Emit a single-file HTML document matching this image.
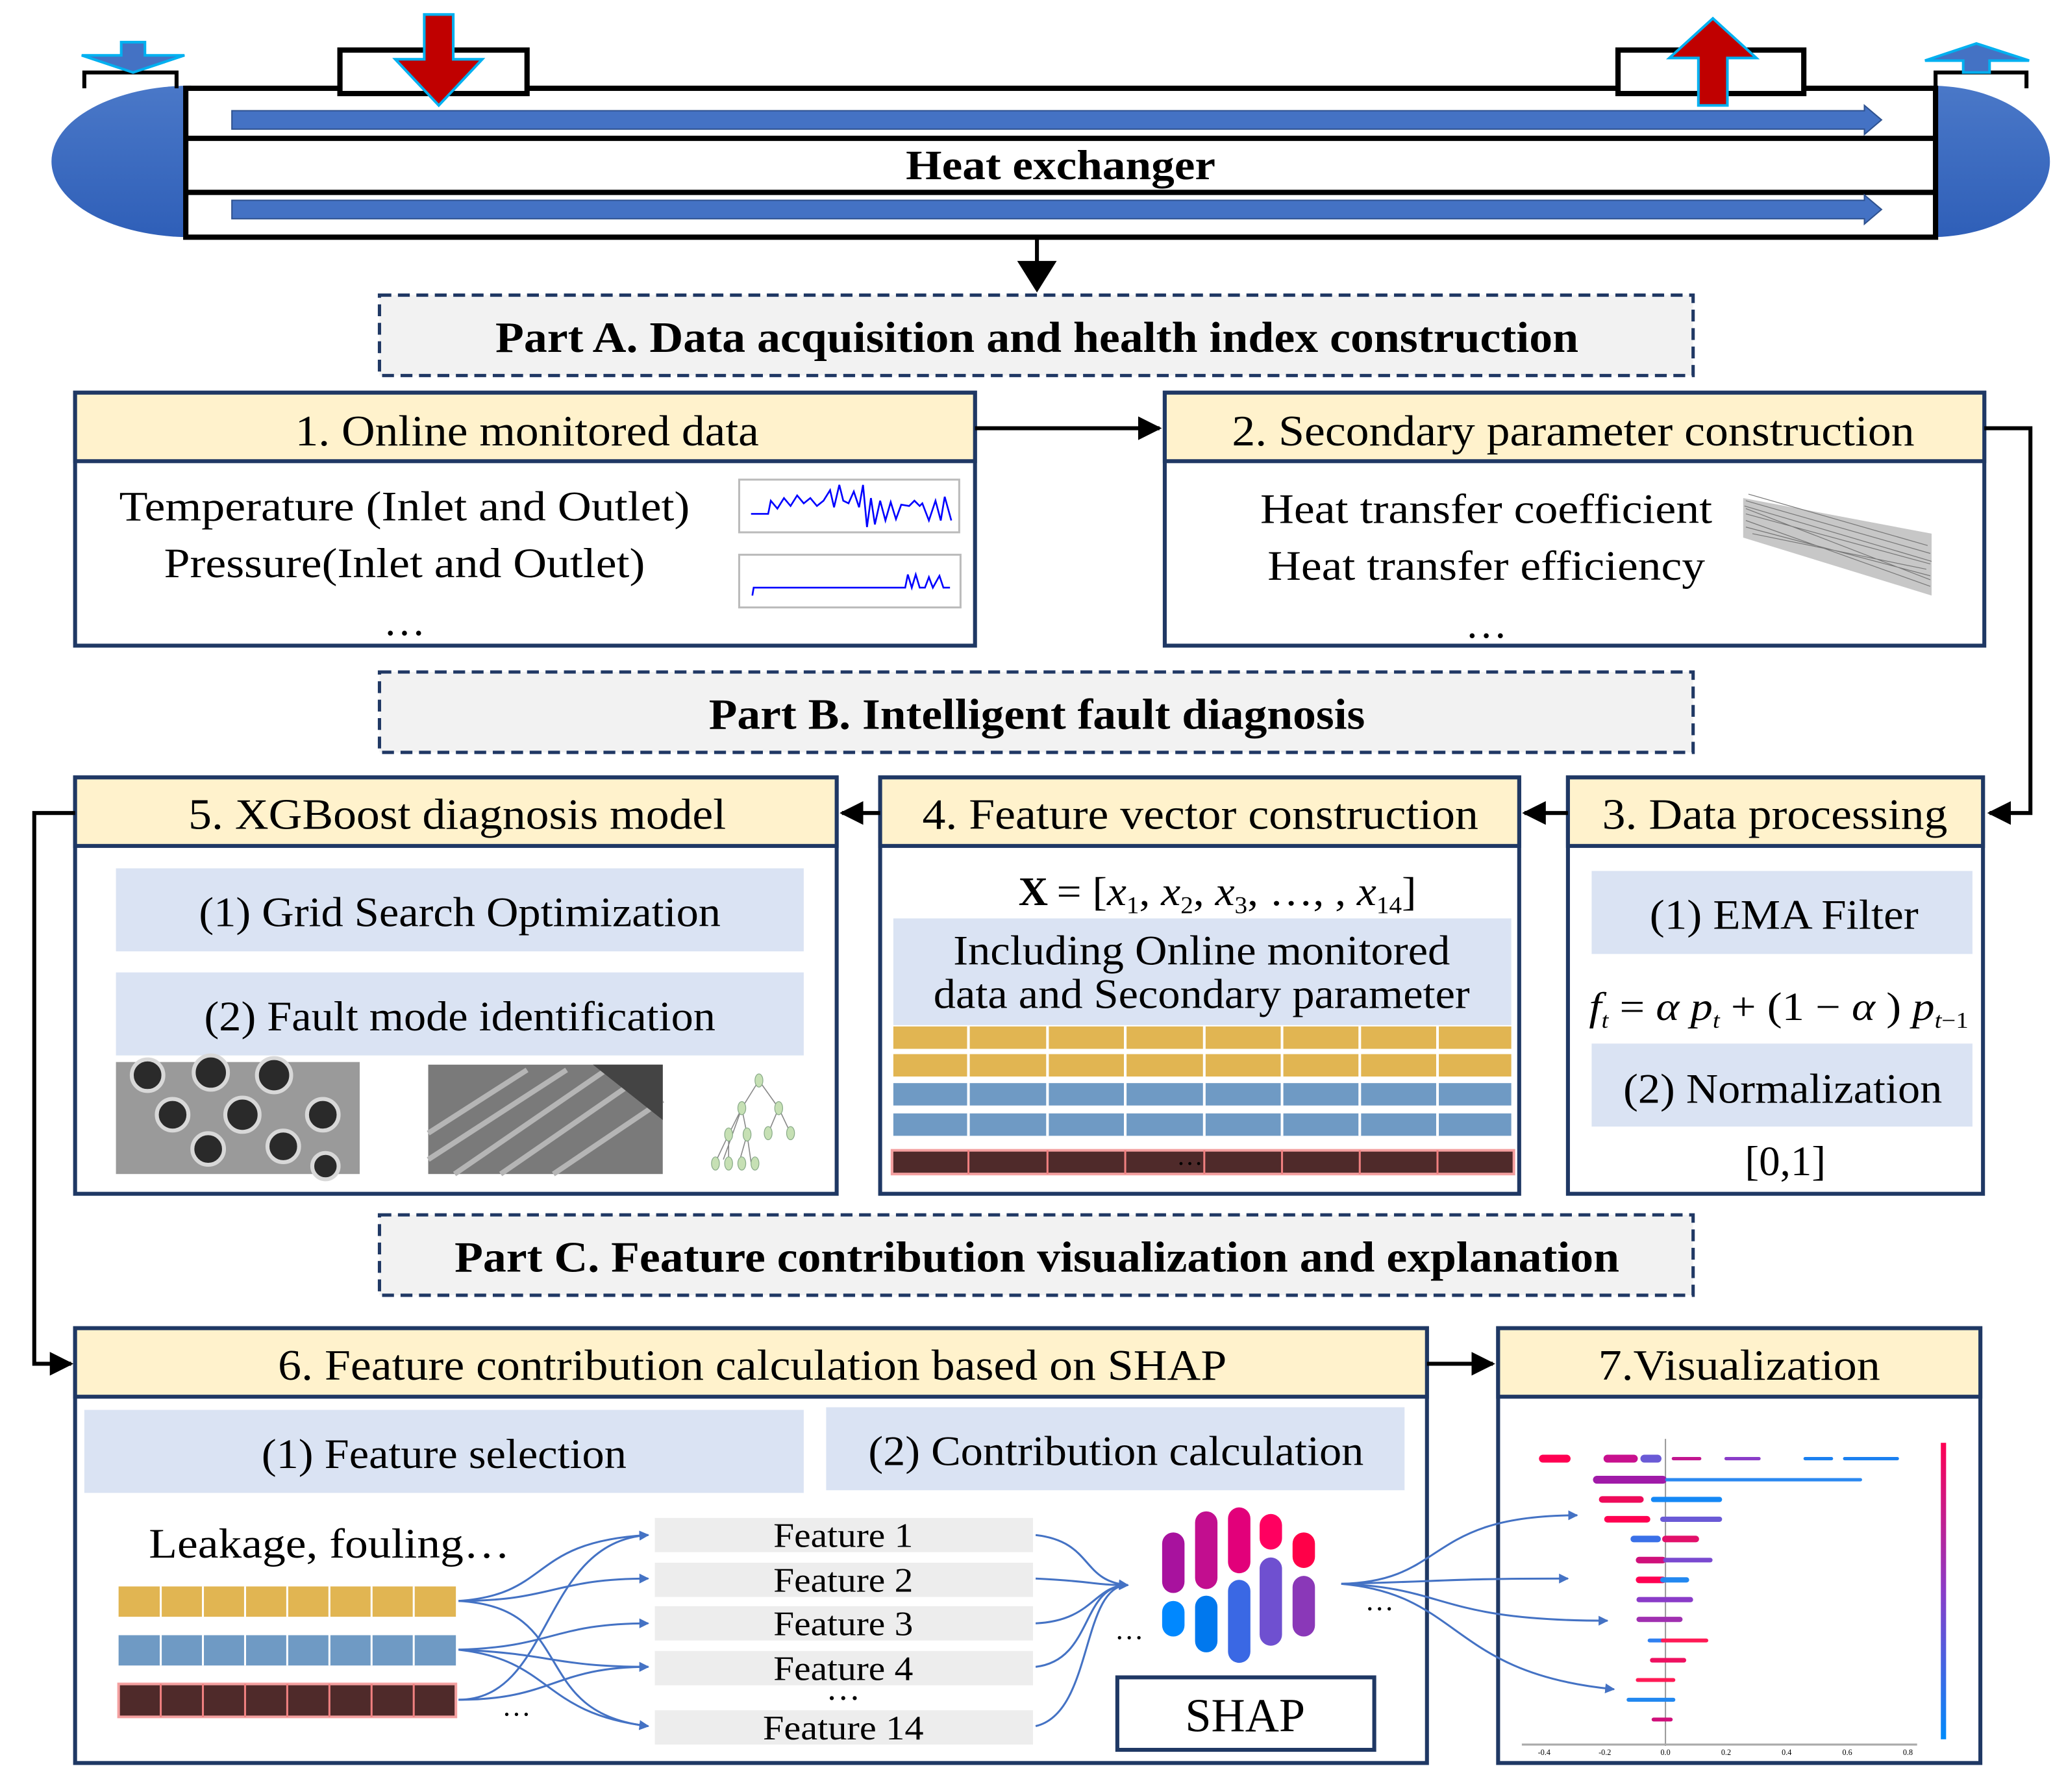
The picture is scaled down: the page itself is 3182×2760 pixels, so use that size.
<!DOCTYPE html>
<html><head><meta charset="utf-8"><style>
html,body{margin:0;padding:0;background:#fff;}
svg{display:block;}
text{font-family:"Liberation Serif",serif;fill:#000;}
</style></head><body>
<svg width="3182" height="2760" viewBox="0 0 1568 1360" preserveAspectRatio="none" xmlns="http://www.w3.org/2000/svg">
<defs>
<linearGradient id="head" x1="0" y1="0" x2="0" y2="1"><stop offset="0" stop-color="#4a78c8"/><stop offset="1" stop-color="#2f5fb8"/></linearGradient>
<linearGradient id="cbar" x1="0" y1="0" x2="0" y2="1"><stop offset="0" stop-color="#ff0052"/><stop offset="0.5" stop-color="#8a3cc8"/><stop offset="1" stop-color="#008bfb"/></linearGradient>
<marker id="ah" viewBox="0 0 10 10" refX="9" refY="5" markerWidth="6" markerHeight="6" orient="auto"><path d="M0,0 L10,5 L0,10 z" fill="#000"/></marker>
<marker id="bh" viewBox="0 0 10 10" refX="9" refY="5" markerWidth="5" markerHeight="5" orient="auto"><path d="M0,0 L10,5 L0,10 z" fill="#4472c4"/></marker>
</defs>

<!-- Heat exchanger -->
<path d="M145,65 A105,57 0 0 0 145,180 Z" fill="url(#head)"/>
<path d="M1465,65 A90,57 0 0 1 1465,180 Z" fill="url(#head)"/>
<rect x="141" y="67" width="1328" height="113" fill="#fff" stroke="#000" stroke-width="4"/>
<line x1="141" y1="105" x2="1469" y2="105" stroke="#000" stroke-width="4"/>
<line x1="141" y1="146" x2="1469" y2="146" stroke="#000" stroke-width="4"/>
<polyline points="64,67 64,55 134,55 134,67" fill="none" stroke="#000" stroke-width="3"/>
<polyline points="1469,67 1469,55 1538,55 1538,67" fill="none" stroke="#000" stroke-width="3"/>
<rect x="258" y="38" width="142" height="33" fill="#fff" stroke="#000" stroke-width="4"/>
<rect x="1228" y="38" width="141" height="33" fill="#fff" stroke="#000" stroke-width="4"/>
<path d="M176,84 H1415 V80 L1428,91 L1415,102 V98 H176 Z" fill="#4472c4" stroke="#2f528f" stroke-width="1"/>
<path d="M176,152 H1415 V148 L1428,159 L1415,170 V166 H176 Z" fill="#4472c4" stroke="#2f528f" stroke-width="1"/>
<path d="M322,11 H344 V45 H366 L333,80 L300,45 H322 Z" fill="#c00000" stroke="#00b0f0" stroke-width="2"/>
<path d="M1289,80 H1311 V44 H1333 L1300,14 L1267,44 H1289 Z" fill="#c00000" stroke="#00b0f0" stroke-width="2"/>
<path d="M92,32 H110 V42 H140 L101,55 L62,42 H92 Z" fill="#4472c4" stroke="#00b0f0" stroke-width="2"/>
<path d="M1490,55 H1510 V46 H1540 L1500,33 L1461,46 H1490 Z" fill="#4472c4" stroke="#00b0f0" stroke-width="2"/>
<text x="805" y="136" font-size="32" font-weight="bold" text-anchor="middle" textLength="235" lengthAdjust="spacingAndGlyphs">Heat exchanger</text>
<line x1="787" y1="180" x2="787" y2="202" stroke="#000" stroke-width="3"/>
<path d="M772,198 L802,198 L787,222 Z" fill="#000"/>

<!-- Part boxes -->
<g fill="#f2f2f2" stroke="#203864" stroke-width="2.5" stroke-dasharray="9,5">
<rect x="288" y="224" width="997" height="61"/>
<rect x="288" y="510" width="997" height="61"/>
<rect x="288" y="922" width="997" height="61"/>
</g>
<g font-size="33" font-weight="bold" text-anchor="middle">
<text x="787" y="267" textLength="822" lengthAdjust="spacingAndGlyphs">Part A. Data acquisition and health index construction</text>
<text x="787" y="553" textLength="498" lengthAdjust="spacingAndGlyphs">Part B. Intelligent fault diagnosis</text>
<text x="787" y="965" textLength="884" lengthAdjust="spacingAndGlyphs">Part C. Feature contribution visualization and explanation</text>
</g>

<!-- Main boxes -->
<g stroke="#1f3864" stroke-width="3">
<rect x="57" y="298" width="683" height="192" fill="#fff"/>
<rect x="57" y="298" width="683" height="52" fill="#fff2cc"/>
<rect x="884" y="298" width="622" height="192" fill="#fff"/>
<rect x="884" y="298" width="622" height="52" fill="#fff2cc"/>
<rect x="57" y="590" width="578" height="316" fill="#fff"/>
<rect x="57" y="590" width="578" height="52" fill="#fff2cc"/>
<rect x="668" y="590" width="485" height="316" fill="#fff"/>
<rect x="668" y="590" width="485" height="52" fill="#fff2cc"/>
<rect x="1190" y="590" width="315" height="316" fill="#fff"/>
<rect x="1190" y="590" width="315" height="52" fill="#fff2cc"/>
<rect x="57" y="1008" width="1026" height="330" fill="#fff"/>
<rect x="57" y="1008" width="1026" height="52" fill="#fff2cc"/>
<rect x="1137" y="1008" width="366" height="330" fill="#fff"/>
<rect x="1137" y="1008" width="366" height="52" fill="#fff2cc"/>
</g>
<g font-size="33" text-anchor="middle">
<text x="400" y="338" textLength="352" lengthAdjust="spacingAndGlyphs">1. Online monitored data</text>
<text x="1194" y="338" textLength="518" lengthAdjust="spacingAndGlyphs">2. Secondary parameter construction</text>
<text x="347" y="629" textLength="408" lengthAdjust="spacingAndGlyphs">5. XGBoost diagnosis model</text>
<text x="911" y="629" textLength="422" lengthAdjust="spacingAndGlyphs">4. Feature vector construction</text>
<text x="1347" y="629" textLength="262" lengthAdjust="spacingAndGlyphs">3. Data processing</text>
<text x="571" y="1047" textLength="720" lengthAdjust="spacingAndGlyphs">6. Feature contribution calculation based on SHAP</text>
<text x="1320" y="1047" textLength="214" lengthAdjust="spacingAndGlyphs">7.Visualization</text>
</g>

<!-- Connectors -->
<g stroke="#000" stroke-width="3" fill="none">
<line x1="740" y1="325" x2="880" y2="325" marker-end="url(#ah)"/>
<polyline points="1506,325 1541,325 1541,617 1510,617" marker-end="url(#ah)"/>
<line x1="1190" y1="617" x2="1157" y2="617" marker-end="url(#ah)"/>
<line x1="668" y1="617" x2="639" y2="617" marker-end="url(#ah)"/>
<polyline points="57,617 26,617 26,1035 54,1035" marker-end="url(#ah)"/>
<line x1="1083" y1="1035" x2="1133" y2="1035" marker-end="url(#ah)"/>
</g>

<!-- Box1/2 content -->
<g font-size="32" text-anchor="middle">
<text x="307" y="395" textLength="433" lengthAdjust="spacingAndGlyphs">Temperature (Inlet and Outlet)</text>
<text x="307" y="438" textLength="365" lengthAdjust="spacingAndGlyphs">Pressure(Inlet and Outlet)</text>
<text x="307" y="482">…</text>
<text x="1128" y="397" textLength="343" lengthAdjust="spacingAndGlyphs">Heat transfer coefficient</text>
<text x="1128" y="440" textLength="332" lengthAdjust="spacingAndGlyphs">Heat transfer efficiency</text>
<text x="1128" y="484">…</text>
</g>
<rect x="561" y="364" width="167" height="40" fill="#fff" stroke="#bbb" stroke-width="1.5"/>
<rect x="561" y="421" width="168" height="40" fill="#fff" stroke="#bbb" stroke-width="1.5"/>
<polyline fill="none" stroke="#0000ff" stroke-width="1.3" points="570,390 583,390 585,380 590,386 595,378 600,384 605,376 610,382 615,378 620,384 625,380 630,372 633,385 637,368 640,380 644,382 648,373 652,385 655,368 658,400 661,378 664,398 668,380 672,395 676,381 680,394 684,383 690,384 694,380 698,384 700,382 705,395 710,380 714,395 717,377 722,395"/>
<polyline fill="none" stroke="#0000ff" stroke-width="1.3" points="571,452 572,446 687,446 689,436 692,446 695,436 698,446 702,446 705,438 708,446 713,437 716,446 721,446"/>
<path d="M1323,378 L1466,405 L1466,452 L1323,408 Z" fill="#999" opacity="0.55"/>
<g stroke="#777" stroke-width="0.6">
<path d="M1325,380 L1465,420 M1325,390 L1465,428 M1325,400 L1465,437 M1325,386 L1465,440 M1325,395 L1465,445 M1327,375 L1463,414 M1330,405 L1462,432 M1324,384 L1466,426"/>
</g>

<!-- Box5 content -->
<rect x="88" y="659" width="522" height="63" fill="#dae3f3"/>
<rect x="88" y="738" width="522" height="63" fill="#dae3f3"/>
<g font-size="32" text-anchor="middle">
<text x="349" y="703" textLength="396" lengthAdjust="spacingAndGlyphs">(1) Grid Search Optimization</text>
<text x="349" y="782" textLength="388" lengthAdjust="spacingAndGlyphs">(2) Fault mode identification</text>
</g>
<rect x="88" y="806" width="185" height="85" fill="#9a9a9a"/>
<g fill="#2a2a2a" stroke="#d8d8d8" stroke-width="3">
<circle cx="112" cy="816" r="12"/><circle cx="160" cy="814" r="13"/><circle cx="208" cy="816" r="13"/>
<circle cx="131" cy="846" r="12"/><circle cx="184" cy="846" r="13"/><circle cx="245" cy="846" r="12"/>
<circle cx="158" cy="872" r="12"/><circle cx="215" cy="870" r="12"/><circle cx="247" cy="885" r="10"/>
</g>
<rect x="325" y="808" width="178" height="83" fill="#7a7a7a"/>
<g stroke="#b5b5b5" stroke-width="4">
<line x1="325" y1="860" x2="400" y2="812"/><line x1="325" y1="880" x2="430" y2="812"/><line x1="345" y1="891" x2="460" y2="812"/><line x1="380" y1="891" x2="490" y2="815"/><line x1="420" y1="891" x2="503" y2="835"/>
</g>
<path d="M450,808 L503,808 L503,850 Z" fill="#444"/>
<g stroke="#888" stroke-width="0.8" fill="none">
<path d="M576,820 L563,841 L549,880 M563,841 L553,861 L543,882 M563,841 L567,861 L561,882 M567,861 L570,882 M576,820 L591,841 L583,860 M591,841 L600,860 M553,861 L553,882"/>
</g>
<g fill="#c6e0b4" stroke="#8a8" stroke-width="0.6">
<ellipse cx="576" cy="820" rx="3" ry="5"/><ellipse cx="563" cy="841" rx="3" ry="5"/><ellipse cx="591" cy="841" rx="3" ry="5"/>
<ellipse cx="553" cy="861" rx="3" ry="5"/><ellipse cx="567" cy="861" rx="3" ry="5"/><ellipse cx="583" cy="860" rx="3" ry="5"/><ellipse cx="600" cy="860" rx="3" ry="5"/>
<ellipse cx="543" cy="883" rx="3" ry="5"/><ellipse cx="553" cy="883" rx="3" ry="5"/><ellipse cx="563" cy="883" rx="3" ry="5"/><ellipse cx="573" cy="883" rx="3" ry="5"/>
</g>

<!-- Box4 content -->
<text x="773" y="687" font-size="31" font-weight="bold">X</text>
<text x="802" y="687" font-size="31" textLength="273" lengthAdjust="spacingAndGlyphs">= [<tspan font-style="italic">x</tspan><tspan font-size="18" dy="6">1</tspan><tspan dy="-6">, </tspan><tspan font-style="italic">x</tspan><tspan font-size="18" dy="6">2</tspan><tspan dy="-6">, </tspan><tspan font-style="italic">x</tspan><tspan font-size="18" dy="6">3</tspan><tspan dy="-6">, …, , </tspan><tspan font-style="italic">x</tspan><tspan font-size="18" dy="6">14</tspan><tspan dy="-6">]</tspan></text>
<rect x="678" y="697" width="469" height="81" fill="#dae3f3"/>
<g font-size="32" text-anchor="middle">
<text x="912" y="732" textLength="377" lengthAdjust="spacingAndGlyphs">Including Online monitored</text>
<text x="912" y="765" textLength="407" lengthAdjust="spacingAndGlyphs">data and Secondary parameter</text>
</g>
<g fill="#e1b552"><rect x="678" y="779" width="469" height="17"/><rect x="678" y="800" width="469" height="17"/></g>
<g fill="#6f9ac4"><rect x="678" y="822" width="469" height="17"/><rect x="678" y="845" width="469" height="17"/></g>
<rect x="677" y="873" width="472" height="18" fill="#4f2a2a" stroke="#f4a0a0" stroke-width="2"/>
<g stroke="#fff" stroke-width="2">
<path d="M735,779 V862 M795,779 V862 M854,779 V862 M914,779 V862 M973,779 V862 M1032,779 V862 M1091,779 V862"/>
</g>
<g stroke="#f08080" stroke-width="1.5"><path d="M735,873 V891 M795,873 V891 M854,873 V891 M914,873 V891 M973,873 V891 M1032,873 V891 M1091,873 V891"/></g>
<text x="903" y="884" font-size="20" text-anchor="middle">…</text>

<!-- Box3 content -->
<rect x="1208" y="661" width="289" height="63" fill="#dae3f3"/>
<rect x="1208" y="792" width="289" height="63" fill="#dae3f3"/>
<g font-size="32" text-anchor="middle">
<text x="1354" y="705" textLength="204" lengthAdjust="spacingAndGlyphs">(1) EMA Filter</text>
<text x="1353" y="837" textLength="242" lengthAdjust="spacingAndGlyphs">(2) Normalization</text>
<text x="1355" y="892">[0,1]</text>
</g>
<text x="1350" y="774" font-size="30" text-anchor="middle" textLength="288" lengthAdjust="spacingAndGlyphs"><tspan font-style="italic">f</tspan><tspan font-size="17" dy="6" font-style="italic">t</tspan><tspan dy="-6"> = </tspan><tspan font-style="italic">α p</tspan><tspan font-size="17" dy="6" font-style="italic">t</tspan><tspan dy="-6"> + (1 − </tspan><tspan font-style="italic">α</tspan><tspan> ) </tspan><tspan font-style="italic">p</tspan><tspan font-size="17" dy="6" font-style="italic">t</tspan><tspan font-size="17">−1</tspan></text>

<!-- Box6 content -->
<rect x="64" y="1070" width="546" height="63" fill="#dae3f3"/>
<rect x="627" y="1068" width="439" height="63" fill="#dae3f3"/>
<g font-size="32" text-anchor="middle">
<text x="337" y="1114" textLength="277" lengthAdjust="spacingAndGlyphs">(1) Feature selection</text>
<text x="847" y="1112" textLength="376" lengthAdjust="spacingAndGlyphs">(2) Contribution calculation</text>
</g>
<text x="113" y="1182" font-size="32" textLength="274" lengthAdjust="spacingAndGlyphs">Leakage, fouling…</text>
<rect x="90" y="1204" width="256" height="23" fill="#e1b552"/>
<rect x="90" y="1241" width="256" height="23" fill="#6f9ac4"/>
<rect x="90" y="1278" width="256" height="25" fill="#4f2a2a" stroke="#f4a0a0" stroke-width="2"/>
<g stroke="#fff" stroke-width="1.5"><path d="M122,1204 V1264 M154,1204 V1264 M186,1204 V1264 M218,1204 V1264 M250,1204 V1264 M282,1204 V1264 M314,1204 V1264"/></g>
<g stroke="#f08080" stroke-width="1.5"><path d="M122,1278 V1303 M154,1278 V1303 M186,1278 V1303 M218,1278 V1303 M250,1278 V1303 M282,1278 V1303 M314,1278 V1303"/></g>
<text x="392" y="1302" font-size="22" text-anchor="middle">…</text>
<g fill="#ededed">
<rect x="497" y="1152" width="287" height="26"/><rect x="497" y="1186" width="287" height="26"/><rect x="497" y="1219" width="287" height="26"/><rect x="497" y="1253" width="287" height="26"/><rect x="497" y="1298" width="287" height="26"/>
</g>
<g font-size="26" text-anchor="middle">
<text x="640" y="1174" textLength="106" lengthAdjust="spacingAndGlyphs">Feature 1</text><text x="640" y="1208" textLength="106" lengthAdjust="spacingAndGlyphs">Feature 2</text><text x="640" y="1241" textLength="106" lengthAdjust="spacingAndGlyphs">Feature 3</text><text x="640" y="1275" textLength="106" lengthAdjust="spacingAndGlyphs">Feature 4</text><text x="640" y="1290">…</text><text x="640" y="1320" textLength="122" lengthAdjust="spacingAndGlyphs">Feature 14</text>
</g>
<g stroke="#4472c4" stroke-width="1.5" fill="none" marker-end="url(#bh)">
<path d="M348,1215 C420,1210 400,1170 492,1165"/>
<path d="M348,1215 C420,1215 420,1198 492,1198"/>
<path d="M348,1215 C440,1220 400,1300 492,1310"/>
<path d="M348,1252 C420,1250 420,1232 492,1232"/>
<path d="M348,1252 C420,1255 420,1265 492,1265"/>
<path d="M348,1290 C420,1290 410,1170 492,1165"/>
<path d="M348,1290 C420,1290 420,1265 492,1265"/>
<path d="M348,1252 C420,1260 410,1300 492,1310"/>
<path d="M786,1165 C830,1170 820,1200 856,1203"/>
<path d="M786,1198 C830,1200 830,1203 856,1203"/>
<path d="M786,1232 C830,1230 830,1203 856,1203"/>
<path d="M786,1265 C830,1260 820,1203 856,1203"/>
<path d="M786,1310 C830,1300 820,1203 856,1203"/>
<path d="M1018,1202 C1100,1200 1080,1150 1197,1150"/>
<path d="M1018,1202 C1100,1200 1100,1198 1190,1198"/>
<path d="M1018,1202 C1100,1205 1090,1230 1220,1230"/>
<path d="M1018,1202 C1110,1210 1100,1270 1225,1282"/>
</g>
<text x="857" y="1244" font-size="22" text-anchor="middle">…</text>
<text x="1047" y="1222" font-size="22" text-anchor="middle">…</text>
<!-- SHAP logo -->
<g>
<rect x="882" y="1163" width="17" height="46" rx="8.5" fill="#a8129e"/>
<rect x="882" y="1215" width="17" height="27" rx="8.5" fill="#0088ff"/>
<rect x="907" y="1147" width="17" height="59" rx="8.5" fill="#c20e8f"/>
<rect x="907" y="1211" width="17" height="43" rx="8.5" fill="#0078ee"/>
<rect x="932" y="1144" width="17" height="50" rx="8.5" fill="#e2007a"/>
<rect x="932" y="1199" width="17" height="63" rx="8.5" fill="#3a68e4"/>
<rect x="956" y="1149" width="17" height="27" rx="8.5" fill="#ff0060"/>
<rect x="956" y="1182" width="17" height="67" rx="8.5" fill="#6f50d0"/>
<rect x="981" y="1163" width="17" height="27" rx="8.5" fill="#ff0048"/>
<rect x="981" y="1196" width="17" height="46" rx="8.5" fill="#8a38b8"/>
</g>
<rect x="848" y="1273" width="195" height="55" fill="#fff" stroke="#1f3864" stroke-width="3"/>
<text x="945" y="1314" font-size="36" text-anchor="middle" textLength="91" lengthAdjust="spacingAndGlyphs">SHAP</text>

<!-- Box7 beeswarm -->
<line x1="1264" y1="1092" x2="1264" y2="1325" stroke="#999" stroke-width="1"/>
<line x1="1155" y1="1324" x2="1455" y2="1324" stroke="#aaa" stroke-width="1.5"/>
<g font-size="6" fill="#888" text-anchor="middle">
<text x="1172" y="1332">-0.4</text><text x="1218" y="1332">-0.2</text><text x="1264" y="1332">0.0</text><text x="1310" y="1332">0.2</text><text x="1356" y="1332">0.4</text><text x="1402" y="1332">0.6</text><text x="1448" y="1332">0.8</text>
</g>
<g stroke-width="4" stroke-linecap="round">
<line x1="1171" y1="1107" x2="1189" y2="1107" stroke="#ff0052" stroke-width="6"/>
<line x1="1220" y1="1107" x2="1240" y2="1107" stroke="#c8108e" stroke-width="6"/>
<line x1="1248" y1="1107" x2="1258" y2="1107" stroke="#6a5ad6" stroke-width="6"/>
<line x1="1270" y1="1107" x2="1290" y2="1107" stroke="#c2158f" stroke-width="2.5"/>
<line x1="1310" y1="1107" x2="1335" y2="1107" stroke="#8a3cc8" stroke-width="2.5"/>
<line x1="1370" y1="1107" x2="1390" y2="1107" stroke="#1a80f0" stroke-width="2.5"/>
<line x1="1400" y1="1107" x2="1440" y2="1107" stroke="#1a80f0" stroke-width="2.5"/>
<line x1="1212" y1="1123" x2="1262" y2="1123" stroke="#a01aa8" stroke-width="6"/>
<line x1="1265" y1="1123" x2="1412" y2="1123" stroke="#2a88f0" stroke-width="2.5"/>
<line x1="1216" y1="1138" x2="1245" y2="1138" stroke="#ee0a5a" stroke-width="5"/>
<line x1="1255" y1="1138" x2="1305" y2="1138" stroke="#1588f5" stroke-width="4"/>
<line x1="1220" y1="1153" x2="1250" y2="1153" stroke="#ff0052" stroke-width="5"/>
<line x1="1262" y1="1153" x2="1305" y2="1153" stroke="#6a5ad6" stroke-width="4"/>
<line x1="1240" y1="1168" x2="1258" y2="1168" stroke="#3a70e8" stroke-width="5"/>
<line x1="1264" y1="1168" x2="1287" y2="1168" stroke="#e2106a" stroke-width="5"/>
<line x1="1244" y1="1184" x2="1262" y2="1184" stroke="#d0107a" stroke-width="5"/>
<line x1="1264" y1="1184" x2="1298" y2="1184" stroke="#7a4ad0" stroke-width="3.5"/>
<line x1="1244" y1="1199" x2="1262" y2="1199" stroke="#ff0052" stroke-width="5"/>
<line x1="1262" y1="1199" x2="1280" y2="1199" stroke="#2288f0" stroke-width="4"/>
<line x1="1244" y1="1214" x2="1283" y2="1214" stroke="#8a3cc8" stroke-width="4"/>
<line x1="1244" y1="1229" x2="1275" y2="1229" stroke="#a030b0" stroke-width="4"/>
<line x1="1252" y1="1245" x2="1262" y2="1245" stroke="#3080f0" stroke-width="3"/>
<line x1="1262" y1="1245" x2="1295" y2="1245" stroke="#ff1a55" stroke-width="3"/>
<line x1="1254" y1="1260" x2="1278" y2="1260" stroke="#ee1060" stroke-width="3.5"/>
<line x1="1243" y1="1275" x2="1270" y2="1275" stroke="#ff1a55" stroke-width="3"/>
<line x1="1236" y1="1290" x2="1270" y2="1290" stroke="#2288f0" stroke-width="3"/>
<line x1="1255" y1="1305" x2="1268" y2="1305" stroke="#d0107a" stroke-width="3"/>
</g>
<rect x="1473" y="1095" width="4" height="225" fill="url(#cbar)"/>
</svg>
</body></html>
